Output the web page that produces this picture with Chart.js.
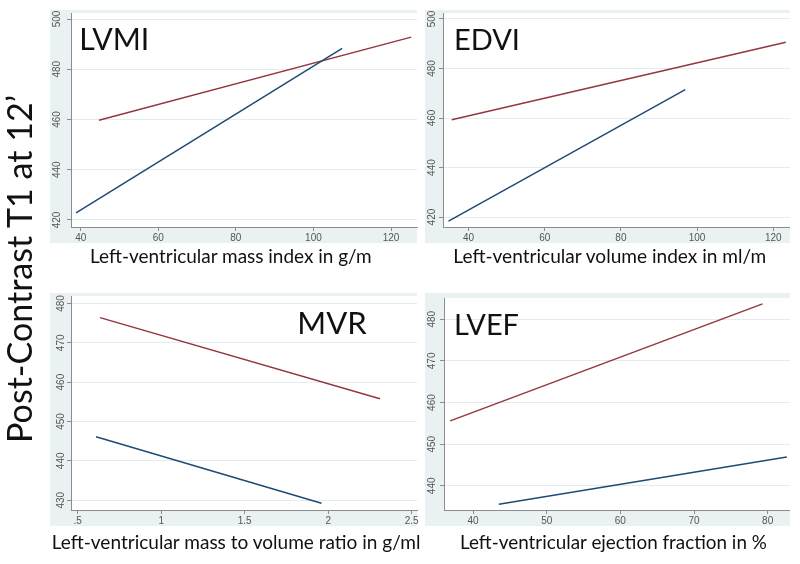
<!DOCTYPE html>
<html><head><meta charset="utf-8">
<script src="https://cdn.jsdelivr.net/npm/chart.js@4/dist/chart.umd.min.js"></script>
<style>
html,body{margin:0;padding:0;background:#fff;}
#wrap{position:relative;width:800px;height:564px;overflow:hidden;}
canvas.p{position:absolute;background:#eaf1f3;}
canvas.w{background:linear-gradient(to right,#eaf1f3 367px,transparent 367px);}
#ov{position:absolute;left:0;top:0;pointer-events:none;}
#ov text{font-family:Lato,"Open Sans",sans-serif;fill:#111;}
</style></head><body>
<div id="wrap">
<canvas id="c1" class="p w" width="373" height="233" style="left:50px;top:10px"></canvas>
<canvas id="c2" class="p" width="365" height="233" style="left:425px;top:10px"></canvas>
<canvas id="c3" class="p w" width="373" height="233" style="left:50px;top:293px"></canvas>
<canvas id="c4" class="p" width="365" height="233" style="left:425px;top:293px"></canvas>
<svg id="ov" width="800" height="564" xmlns="http://www.w3.org/2000/svg"></svg>
</div>
<script>
// ---------- data ----------
const yAxisTitle = "Post-Contrast T1 at 12\u2019";

// LVMI panel
const lvmiBlueX = [38.8, 107.4];
const lvmiBlueY = [422.8, 488.3];
const lvmiRedX  = [44.7, 125.2];
const lvmiRedY  = [459.7, 492.8];
const lvmiXTicks = [40, 60, 80, 100, 120];
const lvmiXLabels = ["40", "60", "80", "100", "120"];
const lvmiYTicks = [420, 440, 460, 480, 500];
const lvmiYLabels = ["420", "440", "460", "480", "500"];

// EDVI panel
const edviBlueX = [34.75, 96.9];
const edviBlueY = [418.4, 471.5];
const edviRedX  = [35.6, 123.3];
const edviRedY  = [459.3, 490.6];
const edviXTicks = [40, 60, 80, 100, 120];
const edviXLabels = ["40", "60", "80", "100", "120"];
const edviYTicks = [420, 440, 460, 480, 500];
const edviYLabels = ["420", "440", "460", "480", "500"];

// MVR panel
const mvrBlueX = [0.61, 1.96];
const mvrBlueY = [446.1, 429.2];
const mvrRedX  = [0.634, 2.31];
const mvrRedY  = [476.4, 455.8];
const mvrXTicks = [0.5, 1, 1.5, 2, 2.5];
const mvrXLabels = [".5", "1", "1.5", "2", "2.5"];
const mvrYTicks = [430, 440, 450, 460, 470, 480];
const mvrYLabels = ["430", "440", "450", "460", "470", "480"];

// LVEF panel
const lvefBlueX = [43.5, 82.6];
const lvefBlueY = [435.6, 446.9];
const lvefRedX  = [36.9, 79.3];
const lvefRedY  = [455.6, 483.7];
const lvefXTicks = [40, 50, 60, 70, 80];
const lvefXLabels = ["40", "50", "60", "70", "80"];
const lvefYTicks = [440, 450, 460, 470, 480];
const lvefYLabels = ["440", "450", "460", "470", "480"];

// ---------- styling / layout ----------
const NAVY = "#1f4a75", MAROON = "#94363d";
const AXIS = "#8c8c8c", GRID = "#e3ecef", TICKTXT = "#555555";
const TICKFONT = "'Liberation Sans', Arial, sans-serif";

const pts = (xs, ys) => xs.map((x, i) => ({x: x, y: ys[i]}));

const panels = [
  {id:"c1", name:"LVMI", xTitle:"Left-ventricular mass index in g/m",
   blue:pts(lvmiBlueX,lvmiBlueY), red:pts(lvmiRedX,lvmiRedY),
   xt:lvmiXTicks, xl:lvmiXLabels, yt:lvmiYTicks, yl:lvmiYLabels,
   xr:[37.5,126.7], yr:[417.2,502.4], yW:21, xH:16, padTop:3, padRight:6, yOff:14},
  {id:"c2", name:"EDVI", xTitle:"Left-ventricular volume index in ml/m",
   blue:pts(edviBlueX,edviBlueY), red:pts(edviRedX,edviRedY),
   xt:edviXTicks, xl:edviXLabels, yt:edviYTicks, yl:edviYLabels,
   xr:[33.3,124.4], yr:[416,502.4], yW:18, xH:16, padTop:3, padRight:0, yOff:11},
  {id:"c3", name:"MVR", xTitle:"Left-ventricular mass to volume ratio in g/ml",
   blue:pts(mvrBlueX,mvrBlueY), red:pts(mvrRedX,mvrRedY),
   xt:mvrXTicks, xl:mvrXLabels, yt:mvrYTicks, yl:mvrYLabels,
   xr:[0.46,2.532], yr:[427.5,481.9], yW:21, xH:16, padTop:3, padRight:6, yOff:10},
  {id:"c4", name:"LVEF", xTitle:"Left-ventricular ejection fraction in %",
   blue:pts(lvefBlueX,lvefBlueY), red:pts(lvefRedX,lvefRedY),
   xt:lvefXTicks, xl:lvefXLabels, yt:lvefYTicks, yl:lvefYLabels,
   xr:[36.06,83.03], yr:[434.2,485.1], yW:19, xH:16, padTop:5, padRight:0, yOff:12}
];

const plotBg = {
  id:"plotBg",
  beforeDraw(chart){
    const a = chart.chartArea, c = chart.ctx;
    c.save(); c.fillStyle = "#fff";
    c.fillRect(a.left, a.top, a.right - a.left, a.bottom - a.top);
    c.restore();
  }
};
const yLabels = {
  id:"yLabels",
  afterDraw(chart, args, opts){
    const s = chart.scales.y, c = chart.ctx, a = chart.chartArea;
    c.save();
    c.font = "10px " + TICKFONT;
    c.fillStyle = TICKTXT; c.textAlign = "center"; c.textBaseline = "middle";
    s.ticks.forEach((t, i) => {
      const y = s.getPixelForValue(t.value);
      c.save(); c.translate(a.left - opts.off, y); c.rotate(-Math.PI/2);
      c.fillText(opts.labels[i], 0, 0); c.restore();
    });
    c.restore();
  }
};

panels.forEach(p => {
  new Chart(document.getElementById(p.id), {
    type:"scatter",
    data:{datasets:[
      {label:"navy", data:p.blue, showLine:true, borderColor:NAVY, borderWidth:1.5, pointRadius:0, tension:0},
      {label:"maroon", data:p.red, showLine:true, borderColor:MAROON, borderWidth:1.5, pointRadius:0, tension:0}
    ]},
    options:{
      responsive:false, animation:false, devicePixelRatio:1,
      layout:{padding:{top:p.padTop, right:p.padRight, left:0, bottom:0}},
      plugins:{legend:{display:false}, tooltip:{enabled:false},
               yLabels:{off:p.yOff, labels:p.yl}},
      scales:{
        x:{type:"linear", min:p.xr[0], max:p.xr[1],
           afterBuildTicks:s => { s.ticks = p.xt.map(v => ({value:v})); },
           afterFit:s => { s.height = p.xH; s.paddingLeft = s.paddingRight = 0; },
           ticks:{autoSkip:false, maxRotation:0, minRotation:0, padding:1, color:TICKTXT,
                  font:{family:TICKFONT, size:10},
                  callback:(v, i) => p.xl[i]},
           grid:{drawOnChartArea:false, drawTicks:true, tickLength:4, tickColor:AXIS, color:AXIS},
           border:{display:true, color:AXIS, width:1}},
        y:{type:"linear", min:p.yr[0], max:p.yr[1],
           afterBuildTicks:s => { s.ticks = p.yt.map(v => ({value:v})); },
           afterFit:s => { s.width = p.yW; s.paddingTop = s.paddingBottom = 0; },
           ticks:{display:false},
           grid:{drawOnChartArea:true, drawTicks:true, tickLength:4, tickColor:AXIS, color:GRID, lineWidth:1},
           border:{display:true, color:AXIS, width:1}}
      }
    },
    plugins:[plotBg, yLabels]
  });
});

// ---------- overlay text ----------
const NS = "http://www.w3.org/2000/svg";
const ov = document.getElementById("ov");
function addText(str, x, y, width, opts){
  opts = opts || {};
  const t = document.createElementNS(NS, "text");
  t.textContent = str;
  t.setAttribute("x", x); t.setAttribute("y", y);
  t.setAttribute("font-size", 20);
  if (opts.anchor) t.setAttribute("text-anchor", opts.anchor);
  if (opts.transform) t.setAttribute("transform", opts.transform);
  ov.appendChild(t);
  const w = t.getComputedTextLength();
  t.setAttribute("font-size", (20 * width / w).toFixed(2));
  return t;
}
addText("LVMI", 79.3, 49.5, 70);
addText("EDVI", 454, 49.5, 66);
addText("MVR", 297.3, 334, 69.4);
addText("LVEF", 454, 335, 65);
addText(panels[0].xTitle, 90, 263, 282);
addText(panels[1].xTitle, 453.3, 263, 313);
addText(panels[2].xTitle, 51.7, 549, 369);
addText(panels[3].xTitle, 460, 549, 307);
addText(yAxisTitle, -269, 32, 348, {anchor:"middle", transform:"rotate(-90)"});
</script>
</body></html>
